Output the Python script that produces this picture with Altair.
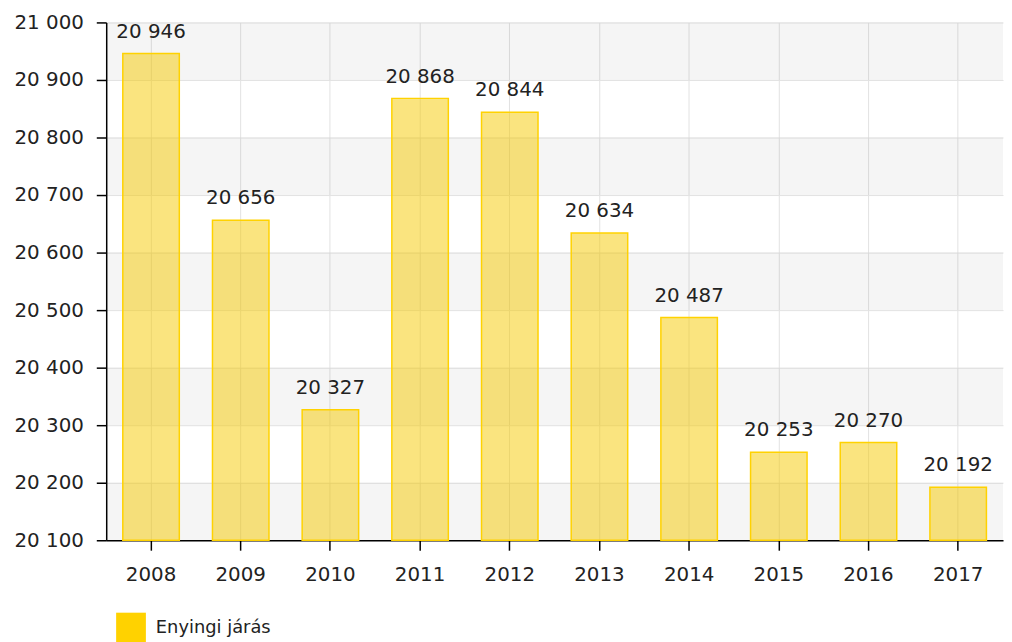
import altair as alt
import pandas as pd

years = ["2008", "2009", "2010", "2011", "2012", "2013", "2014", "2015", "2016", "2017"]
values = [20946, 20656, 20327, 20868, 20844, 20634, 20487, 20253, 20270, 20192]
series_name = "Enyingi járás"
y_ticks = [20100, 20200, 20300, 20400, 20500, 20600, 20700, 20800, 20900, 21000]
band_starts = [20100, 20300, 20500, 20700, 20900]
band_ends = [20200, 20400, 20600, 20800, 21000]

df = pd.DataFrame({"year": years, "value": values, "series": series_name})
df["label"] = [f"{v:,}".replace(",", " ") for v in values]
bands = pd.DataFrame({"y": band_starts, "y2": band_ends})

W, H = 904, 522
FONT = "DejaVu Sans"
TXT = "#222222"
GRID = "#E2E2E2"

yscale = alt.Scale(domain=[20100, 21000], nice=False, zero=False)
xscale = alt.Scale(paddingInner=0.37, paddingOuter=0.185)

y_axis = alt.Axis(
    values=y_ticks,
    labelExpr="replace(format(datum.value, ','), ',', ' ')",
    title=None, grid=True, gridColor=GRID, gridWidth=1,
    domainColor="black", domainWidth=1.5, tickColor="black", tickSize=10, tickWidth=1.5,
    labelPadding=13, labelFontSize=20, labelFont=FONT, labelColor=TXT,
)
x_axis = alt.Axis(
    title=None, labelAngle=0, grid=True, gridColor=GRID, gridWidth=1,
    domainColor="black", domainWidth=1.5, tickColor="black", tickSize=10, tickWidth=1.5,
    labelPadding=15, labelFontSize=20, labelFont=FONT, labelColor=TXT,
)

band_layer = alt.Chart(bands).mark_rect(color="black", opacity=0.04).encode(
    y=alt.Y("y:Q", scale=yscale, axis=y_axis),
    y2="y2:Q",
    x=alt.value(0),
    x2=alt.value(W),
)

bars = alt.Chart(df).mark_bar(
    fill="#F5CA00", fillOpacity=0.5, stroke="#FFD200", strokeWidth=1.5
).encode(
    x=alt.X("year:N", scale=xscale, axis=x_axis, sort=years),
    y=alt.Y("value:Q", scale=yscale, axis=y_axis),
    y2=alt.datum(20100),
    color=alt.Color(
        "series:N",
        scale=alt.Scale(range=["#FFD200"]),
        legend=alt.Legend(
            title=None, orient="none", legendX=10, legendY=595,
            symbolType="square", symbolSize=900, symbolOpacity=1,
            symbolStrokeWidth=0, symbolFillColor="#FFD200",
            labelFontSize=18, labelFont=FONT, labelColor=TXT,
            labelOffset=10, padding=0,
        ),
    ),
)

labels = alt.Chart(df).mark_text(
    dy=-12, baseline="bottom", fontSize=20, font=FONT, color=TXT
).encode(
    x=alt.X("year:N", scale=xscale, axis=x_axis, sort=years),
    y=alt.Y("value:Q", scale=yscale, axis=y_axis),
    text="label:N",
)

chart = alt.layer(band_layer, bars, labels).properties(
    width=W, height=H,
    autosize=alt.AutoSizeParams(type="none"),
    padding={"left": 99, "top": 12, "right": 1, "bottom": 100},
).configure_view(stroke=None)

chart.save("out.html", embed_options={"renderer": "svg", "actions": False})
